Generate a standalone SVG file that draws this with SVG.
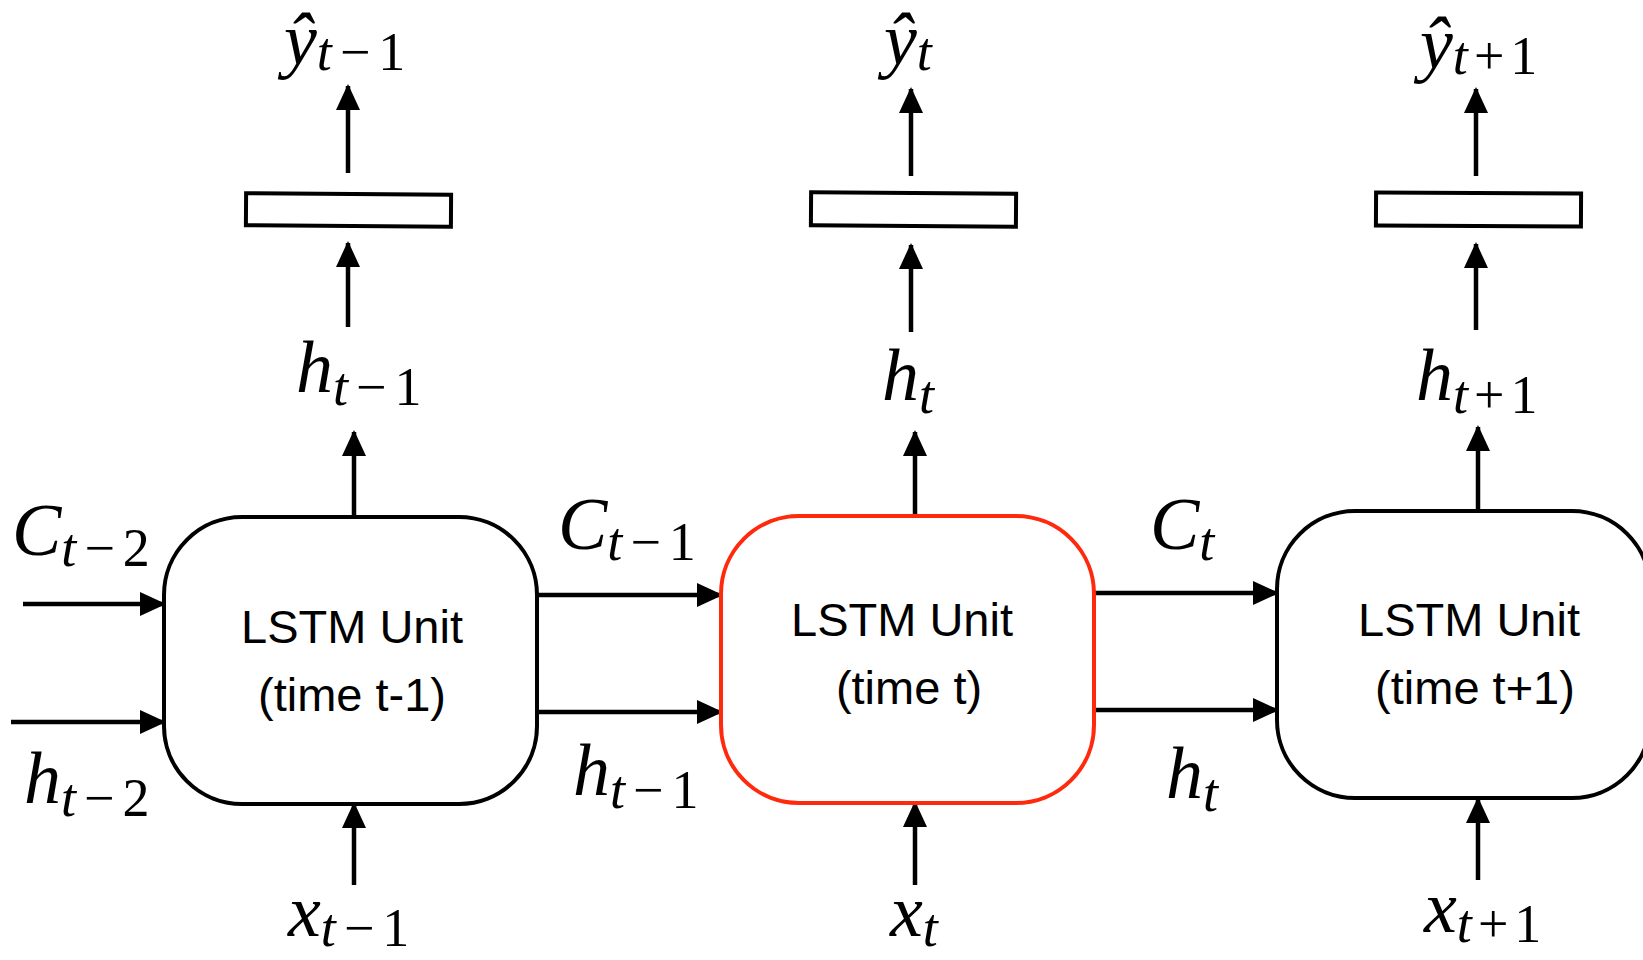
<svg xmlns="http://www.w3.org/2000/svg" width="1643" height="960" viewBox="0 0 1643 960">
<style>
.unit{fill:#fff;stroke:#000;stroke-width:4}
.red{stroke:#ff2a0d}
.out{fill:#fff;stroke:#000;stroke-width:4}
.lbl{font-family:"Liberation Sans",Arial,sans-serif;font-size:47px;fill:#000;text-anchor:middle}
.m{font-family:"Liberation Serif","DejaVu Serif",serif;font-size:74px;fill:#000}
.i{font-style:italic}
.s{font-size:54px}
.c line{stroke:#000;stroke-width:4.5;marker-end:url(#ah)}
</style>
<defs>
<marker id="ah" markerUnits="userSpaceOnUse" markerWidth="26" markerHeight="26" viewBox="0 0 26 26" refX="24" refY="13" orient="auto">
<path d="M0,1 L26,13 L0,25 Z" fill="#000"/>
</marker>
</defs>
<rect width="1643" height="960" fill="#fff"/>
<g id="connectors" class="c">
<line x1="23" y1="604" x2="164" y2="604"/>
<line x1="11" y1="722" x2="164" y2="722"/>
<line x1="537" y1="595" x2="721" y2="595"/>
<line x1="537" y1="712" x2="721" y2="712"/>
<line x1="1094" y1="593" x2="1277" y2="593"/>
<line x1="1094" y1="710" x2="1277" y2="710"/>
<line x1="354" y1="516" x2="354" y2="432"/>
<line x1="915" y1="515" x2="915" y2="432"/>
<line x1="1478" y1="511" x2="1478" y2="427"/>
<line x1="348" y1="327" x2="348" y2="243"/>
<line x1="911" y1="332" x2="911" y2="245"/>
<line x1="1476" y1="330" x2="1476" y2="244"/>
<line x1="348" y1="173" x2="348" y2="86"/>
<line x1="911" y1="176" x2="911" y2="89"/>
<line x1="1476" y1="176" x2="1476" y2="89"/>
<line x1="354" y1="885" x2="354" y2="804"/>
<line x1="915" y1="885" x2="915" y2="803"/>
<line x1="1478" y1="880" x2="1478" y2="799"/>
</g>
<g id="unit1">
<rect class="unit" x="164" y="517" width="373" height="287" rx="78"/>
<text class="lbl" x="352" y="643">LSTM Unit</text>
<text class="lbl" x="352" y="711">(time t-1)</text>
</g>
<g id="unit2">
<rect class="unit red" x="721" y="516" width="373" height="287" rx="78"/>
<text class="lbl" x="902" y="636">LSTM Unit</text>
<text class="lbl" x="909" y="704">(time t)</text>
</g>
<g id="unit3">
<rect class="unit" x="1277" y="511" width="373" height="287" rx="78"/>
<text class="lbl" x="1469" y="636">LSTM Unit</text>
<text class="lbl" x="1475" y="704">(time t+1)</text>
</g>
<g id="out1"><rect class="out" x="246" y="194" width="205" height="32" transform="rotate(0.4 348 210)"/></g>
<g id="out2"><rect class="out" x="811" y="193" width="205" height="33" transform="rotate(0.4 913 210)"/></g>
<g id="out3"><rect class="out" x="1376" y="193" width="205" height="33" transform="rotate(0.3 1478 210)"/></g>
<g id="labels">
<text class="m" x="12" y="555"><tspan class="i">C</tspan><tspan class="s" dy="11"><tspan class="i">t</tspan><tspan dx="8">−</tspan><tspan dx="8">2</tspan></tspan></text>
<text class="m" x="24" y="803"><tspan class="i">h</tspan><tspan class="s" dy="13"><tspan class="i">t</tspan><tspan dx="8">−</tspan><tspan dx="8">2</tspan></tspan></text>
<text class="m" x="558" y="549"><tspan class="i">C</tspan><tspan class="s" dy="11"><tspan class="i">t</tspan><tspan dx="8">−</tspan><tspan dx="8">1</tspan></tspan></text>
<text class="m" x="573" y="795"><tspan class="i">h</tspan><tspan class="s" dy="13"><tspan class="i">t</tspan><tspan dx="8">−</tspan><tspan dx="8">1</tspan></tspan></text>
<text class="m" x="1150" y="549"><tspan class="i">C</tspan><tspan class="s i" dy="11">t</tspan></text>
<text class="m" x="1166" y="798"><tspan class="i">h</tspan><tspan class="s i" dy="13">t</tspan></text>
<text class="m" x="296" y="392"><tspan class="i">h</tspan><tspan class="s" dy="13"><tspan class="i">t</tspan><tspan dx="8">−</tspan><tspan dx="8">1</tspan></tspan></text>
<text class="m" x="882" y="400"><tspan class="i">h</tspan><tspan class="s i" dy="13">t</tspan></text>
<text class="m" x="1416" y="400"><tspan class="i">h</tspan><tspan class="s" dy="13"><tspan class="i">t</tspan><tspan dx="6">+</tspan><tspan dx="6">1</tspan></tspan></text>
<text class="m" x="284" y="64"><tspan class="i">ŷ</tspan><tspan class="s" dy="6"><tspan class="i">t</tspan><tspan dx="8">−</tspan><tspan dx="8">1</tspan></tspan></text>
<text class="m" x="884" y="64"><tspan class="i">ŷ</tspan><tspan class="s i" dy="6">t</tspan></text>
<text class="m" x="1420" y="68"><tspan class="i">ŷ</tspan><tspan class="s" dy="6"><tspan class="i">t</tspan><tspan dx="6">+</tspan><tspan dx="6">1</tspan></tspan></text>
<text class="m" x="288" y="936"><tspan class="i">x</tspan><tspan class="s" dy="10"><tspan class="i">t</tspan><tspan dx="8">−</tspan><tspan dx="8">1</tspan></tspan></text>
<text class="m" x="890" y="936"><tspan class="i">x</tspan><tspan class="s i" dy="10">t</tspan></text>
<text class="m" x="1424" y="932"><tspan class="i">x</tspan><tspan class="s" dy="10"><tspan class="i">t</tspan><tspan dx="6">+</tspan><tspan dx="6">1</tspan></tspan></text>
</g>
</svg>
